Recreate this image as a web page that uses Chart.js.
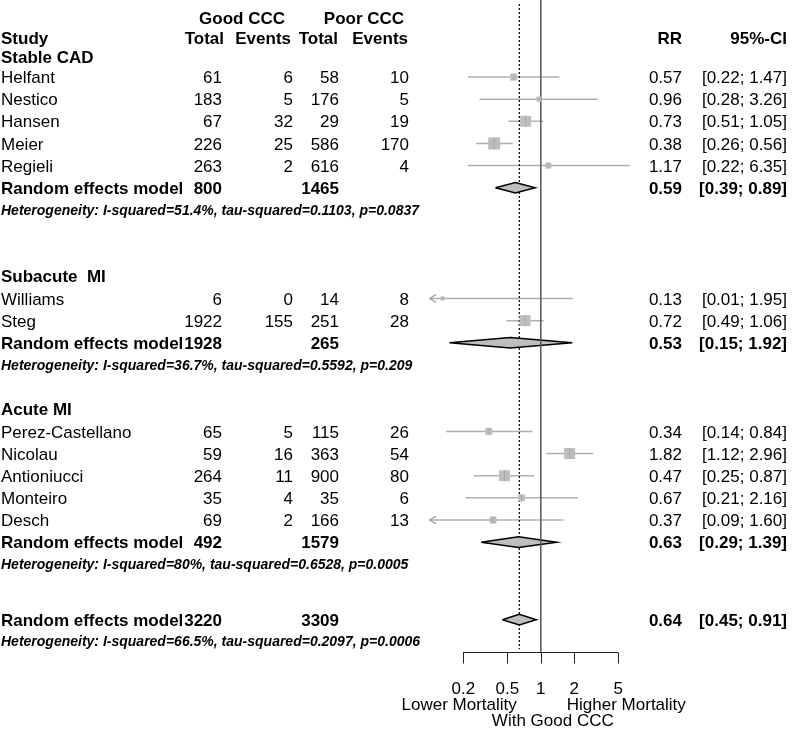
<!DOCTYPE html>
<html>
<head>
<meta charset="utf-8">
<script src="https://cdn.jsdelivr.net/npm/chart.js@4.4.1/dist/chart.umd.min.js"></script>
<style>
  html, body { margin: 0; padding: 0; background: #fff; }
  canvas { display: block; }
</style>
</head>
<body>
<canvas id="forest" width="792" height="730"></canvas>
<script>
// ---- data ----
var groups = ['Stable CAD', 'Subacute  MI', 'Acute MI'];
var studies = ['Helfant', 'Nestico', 'Hansen', 'Meier', 'Regieli',
               'Williams', 'Steg',
               'Perez-Castellano', 'Nicolau', 'Antioniucci', 'Monteiro', 'Desch'];
var studyGroup = [0, 0, 0, 0, 0, 1, 1, 2, 2, 2, 2, 2];
var goodTotal  = [61, 183, 67, 226, 263, 6, 1922, 65, 59, 264, 35, 69];
var goodEvents = [6, 5, 32, 25, 2, 0, 155, 5, 16, 11, 4, 2];
var poorTotal  = [58, 176, 29, 586, 616, 14, 251, 115, 363, 900, 35, 166];
var poorEvents = [10, 5, 19, 170, 4, 8, 28, 26, 54, 80, 6, 13];
var rr    = [0.57, 0.96, 0.73, 0.38, 1.17, 0.13, 0.72, 0.34, 1.82, 0.47, 0.67, 0.37];
var lower = [0.22, 0.28, 0.51, 0.26, 0.22, 0.01, 0.49, 0.14, 1.12, 0.25, 0.21, 0.09];
var upper = [1.47, 3.26, 1.05, 0.56, 6.35, 1.95, 1.06, 0.84, 2.96, 0.87, 2.16, 1.60];
var weights = [5.6, 2.8, 13.7, 16.3, 4.1, 1.8, 13.7, 5.6, 13.7, 13.7, 5.6, 5.6]; // estimated, from box sizes

var reGoodTotal = [800, 1928, 492];
var rePoorTotal = [1465, 265, 1579];
var reRR    = [0.59, 0.53, 0.63];
var reLower = [0.39, 0.15, 0.29];
var reUpper = [0.89, 1.92, 1.39];
var reHet = ['I-squared=51.4%, tau-squared=0.1103, p=0.0837',
             'I-squared=36.7%, tau-squared=0.5592, p=0.209',
             'I-squared=80%, tau-squared=0.6528, p=0.0005'];

var allGoodTotal = 3220, allPoorTotal = 3309;
var allRR = 0.64, allLower = 0.45, allUpper = 0.91;
var allHet = 'I-squared=66.5%, tau-squared=0.2097, p=0.0006';

var tickValues = [0.2, 0.5, 1, 2, 5];
var xLimitLow = 0.1;

// ---- layout (rows, columns in px) ----
var groupLabelRow = [2.1, 12, 18];
var groupFirstRow = [3, 13, 19];
var overallRow = 27.5;
var axisRow = 28.96;
var col = { name: 1, gTot: 222, gEv: 293, pTot: 339, pEv: 409, rr: 682, ci: 787 };
var head = { gTot: 224, gEv: 291, pTot: 338, pEv: 408 };
var refPx = 540.8, pxPerDecade = 110.9, rowPx = 22.15, row3Px = 77;
var xMin = -refPx / pxPerDecade, xMax = (792 - refPx) / pxPerDecade;
var yMin = 3 - row3Px / rowPx, yMax = yMin + 730 / rowPx;

var FONT = "'Liberation Sans', Arial, sans-serif";
var grey = '#bebebe';

function lg(v) { return Math.log10(v); }
function f2(v) { return v.toFixed(2); }
function ciText(l, u) { return '[' + f2(l) + '; ' + f2(u) + ']'; }

// row of each study
var studyRow = [];
var counter = [0, 0, 0];
studies.forEach(function (s, i) {
  var g = studyGroup[i];
  studyRow.push(groupFirstRow[g] + counter[g]);
  counter[g]++;
});
var reRow = groups.map(function (g, k) { return groupFirstRow[k] + counter[k]; });

// ---- datasets ----
var datasets = [];
function boxSide(i) { return 2.97 * Math.sqrt(weights[i]); }

// estimate ticks inside boxes
datasets.push({
  data: studies.map(function (s, i) { return { x: lg(rr[i]), y: studyRow[i] }; }),
  pointStyle: 'line', rotation: 90,
  pointRadius: function (c) { return boxSide(c.dataIndex) / 2; },
  pointBorderColor: '#a8a8a8', pointBorderWidth: 1,
  order: 0
});
// boxes
datasets.push({
  data: studies.map(function (s, i) { return { x: lg(rr[i]), y: studyRow[i] }; }),
  pointStyle: 'rect',
  pointRadius: function (c) { return boxSide(c.dataIndex) / Math.SQRT2; },
  pointBackgroundColor: grey, pointBorderWidth: 0,
  order: 1
});
// solid reference line at 1
datasets.push({
  data: [{ x: 0, y: yMin }, { x: 0, y: axisRow }],
  showLine: true, borderColor: '#555555', borderWidth: 1.5, pointRadius: 0,
  order: 2
});
// diamonds
function diamond(l, e, u, r) {
  var h = 0.24;
  return [{ x: lg(l), y: r }, { x: lg(e), y: r - h }, { x: lg(u), y: r },
          { x: lg(e), y: r + h }, { x: lg(l), y: r }];
}
groups.forEach(function (g, k) {
  datasets.push({
    data: diamond(reLower[k], reRR[k], reUpper[k], reRow[k]),
    showLine: true, fill: 'shape', backgroundColor: grey,
    borderColor: '#000', borderWidth: 1.5, pointRadius: 0, tension: 0,
    order: 3
  });
});
datasets.push({
  data: diamond(allLower, allRR, allUpper, overallRow),
  showLine: true, fill: 'shape', backgroundColor: grey,
  borderColor: '#000', borderWidth: 1.5, pointRadius: 0, tension: 0,
  order: 3
});
// dotted line at the overall estimate
datasets.push({
  data: [{ x: lg(allRR), y: yMin + 0.18 }, { x: lg(allRR), y: axisRow - 0.12 }],
  showLine: true, borderColor: '#000', borderWidth: 1.2, borderDash: [2, 2], pointRadius: 0,
  order: 4
});
// confidence intervals
studies.forEach(function (s, i) {
  datasets.push({
    data: [{ x: lg(Math.max(lower[i], xLimitLow)), y: studyRow[i] }, { x: lg(upper[i]), y: studyRow[i] }],
    showLine: true, borderColor: '#b0b0b0', borderWidth: 1.5, pointRadius: 0,
    order: 5
  });
});

// ---- text, arrows and axis ----
var forestText = {
  id: 'forestText',
  afterDraw: function (chart) {
    var ctx = chart.ctx, xs = chart.scales.x, ys = chart.scales.y;
    function put(s, x, r, align, size, style) {
      ctx.font = (style || '') + ' ' + size + 'px ' + FONT;
      ctx.textAlign = align;
      ctx.textBaseline = 'alphabetic';
      ctx.fillStyle = '#000';
      ctx.fillText(s, x, ys.getPixelForValue(r) + 0.36 * size);
    }
    ctx.save();
    // headers
    put('Good CCC', 242, 0.336, 'center', 17, 'bold');
    put('Poor CCC', 364, 0.336, 'center', 17, 'bold');
    put('Study', col.name, 1.239, 'left', 17, 'bold');
    put('Total', head.gTot, 1.239, 'right', 17, 'bold');
    put('Events', head.gEv, 1.239, 'right', 17, 'bold');
    put('Total', head.pTot, 1.239, 'right', 17, 'bold');
    put('Events', head.pEv, 1.239, 'right', 17, 'bold');
    put('RR', col.rr, 1.239, 'right', 17, 'bold');
    put('95%-CI', col.ci, 1.239, 'right', 17, 'bold');

    groups.forEach(function (g, k) {
      put(g, col.name, groupLabelRow[k], 'left', 17, 'bold');
      var r = reRow[k];
      put('Random effects model', col.name, r, 'left', 17, 'bold');
      put(String(reGoodTotal[k]), col.gTot, r, 'right', 17, 'bold');
      put(String(rePoorTotal[k]), col.pTot, r, 'right', 17, 'bold');
      put(f2(reRR[k]), col.rr, r, 'right', 17, 'bold');
      put(ciText(reLower[k], reUpper[k]), col.ci, r, 'right', 17, 'bold');
      put('Heterogeneity: ' + reHet[k], col.name, r + 1, 'left', 14, 'italic bold');
    });
    studies.forEach(function (s, i) {
      var r = studyRow[i];
      put(s, col.name, r, 'left', 17);
      put(String(goodTotal[i]), col.gTot, r, 'right', 17);
      put(String(goodEvents[i]), col.gEv, r, 'right', 17);
      put(String(poorTotal[i]), col.pTot, r, 'right', 17);
      put(String(poorEvents[i]), col.pEv, r, 'right', 17);
      put(f2(rr[i]), col.rr, r, 'right', 17);
      put(ciText(lower[i], upper[i]), col.ci, r, 'right', 17);
      // arrow where the interval runs past the plot limit
      if (lower[i] < xLimitLow) {
        var tx = xs.getPixelForValue(lg(xLimitLow)), ty = ys.getPixelForValue(r);
        ctx.strokeStyle = '#a0a0a0';
        ctx.lineWidth = 1.5;
        ctx.beginPath();
        ctx.moveTo(tx + 6, ty - 4); ctx.lineTo(tx, ty); ctx.lineTo(tx + 6, ty + 4);
        ctx.stroke();
      }
    });
    put('Random effects model', col.name, overallRow, 'left', 17, 'bold');
    put(String(allGoodTotal), col.gTot, overallRow, 'right', 17, 'bold');
    put(String(allPoorTotal), col.pTot, overallRow, 'right', 17, 'bold');
    put(f2(allRR), col.rr, overallRow, 'right', 17, 'bold');
    put(ciText(allLower, allUpper), col.ci, overallRow, 'right', 17, 'bold');
    put('Heterogeneity: ' + allHet, col.name, overallRow + 0.95, 'left', 14, 'italic bold');

    // x axis
    var ay = Math.round(ys.getPixelForValue(axisRow)) + 0.5;
    var x0 = xs.getPixelForValue(lg(tickValues[0]));
    var x1 = xs.getPixelForValue(lg(tickValues[tickValues.length - 1]));
    ctx.strokeStyle = '#222';
    ctx.lineWidth = 1;
    ctx.beginPath();
    ctx.moveTo(x0, ay); ctx.lineTo(x1, ay);
    tickValues.forEach(function (t) {
      var tx = Math.round(xs.getPixelForValue(lg(t))) + 0.5;
      ctx.moveTo(tx, ay); ctx.lineTo(tx, ay + 11);
    });
    ctx.stroke();
    ctx.font = '17px ' + FONT;
    ctx.fillStyle = '#000';
    ctx.textAlign = 'center';
    tickValues.forEach(function (t) {
      ctx.fillText(String(t), xs.getPixelForValue(lg(t)), ay + 41);
    });
    var xr = xs.getPixelForValue(0);
    ctx.textAlign = 'right';
    ctx.fillText('Lower Mortality', xr - 24, ay + 57);
    ctx.textAlign = 'left';
    ctx.fillText('Higher Mortality', xr + 26, ay + 57);
    ctx.textAlign = 'center';
    ctx.fillText('With Good CCC', xr + 12, ay + 73);
    ctx.restore();
  }
};

new Chart(document.getElementById('forest').getContext('2d'), {
  type: 'scatter',
  data: { datasets: datasets },
  options: {
    responsive: false,
    animation: false,
    events: [],
    layout: { padding: 0, autoPadding: false },
    plugins: { legend: { display: false }, tooltip: { enabled: false } },
    scales: {
      x: { type: 'linear', display: false, min: xMin, max: xMax, bounds: 'data' },
      y: { type: 'linear', display: false, reverse: true, min: yMin, max: yMax, bounds: 'data' }
    }
  },
  plugins: [forestText]
});
</script>
</body>
</html>
